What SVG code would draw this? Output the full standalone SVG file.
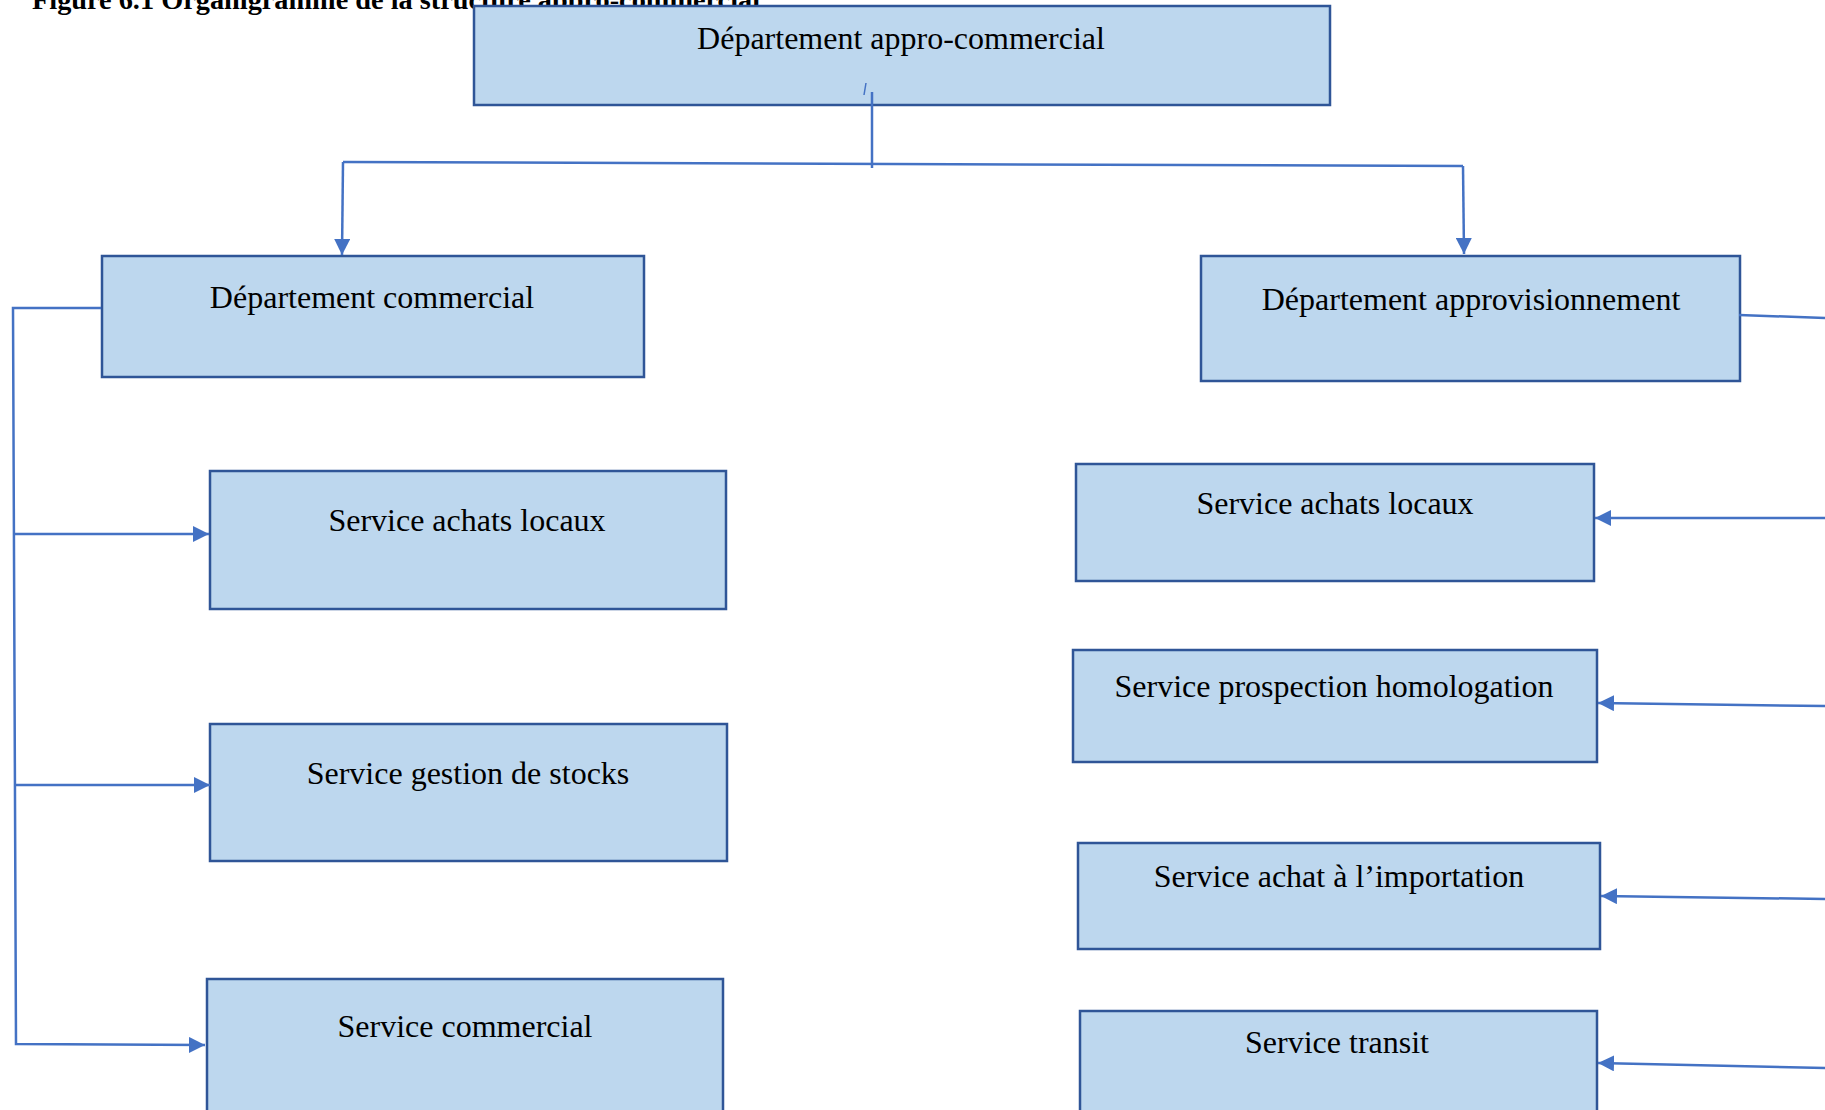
<svg xmlns="http://www.w3.org/2000/svg" width="1825" height="1110" viewBox="0 0 1825 1110">
  <style>
    .box { fill: #BDD7EE; stroke: #2F5597; stroke-width: 2.5; }
    .lbl { font-family: "Liberation Serif", "Times New Roman", serif; font-size: 32px; fill: #000; text-anchor: middle; }
    .title { font-family: "Liberation Serif", "Times New Roman", serif; font-size: 28px; font-weight: bold; fill: #000; }
    .con { fill: none; stroke: #4472C4; stroke-width: 2.5; }
  </style>
  <defs>
    <marker id="arr" viewBox="0 0 10 10" refX="10" refY="5" markerWidth="16" markerHeight="16" markerUnits="userSpaceOnUse" orient="auto">
      <path d="M0,0 L10,5 L0,10 z" fill="#4472C4"/>
    </marker>
  </defs>
  <rect width="1825" height="1110" fill="#FFFFFF"/>
  <text class="title" x="32" y="9" textLength="728" lengthAdjust="spacingAndGlyphs">Figure 6.1 Organigramme de la structure appro-commercial</text>

  <g id="n-dept-appro-commercial">
    <rect class="box" x="474" y="6" width="856" height="99"/>
    <text class="lbl" x="901" y="49">Département appro-commercial</text>
  </g>
  <g id="n-dept-commercial">
    <rect class="box" x="102" y="256" width="542" height="121"/>
    <text class="lbl" x="372" y="308">Département commercial</text>
  </g>
  <g id="n-dept-approvisionnement">
    <rect class="box" x="1201" y="256" width="539" height="125"/>
    <text class="lbl" x="1471" y="310">Département approvisionnement</text>
  </g>
  <g id="n-l-achats-locaux">
    <rect class="box" x="210" y="471" width="516" height="138"/>
    <text class="lbl" x="467" y="531">Service achats locaux</text>
  </g>
  <g id="n-l-gestion-stocks">
    <rect class="box" x="210" y="724" width="517" height="137"/>
    <text class="lbl" x="468" y="784">Service gestion de stocks</text>
  </g>
  <g id="n-l-service-commercial">
    <rect class="box" x="207" y="979" width="516" height="150"/>
    <text class="lbl" x="465" y="1037">Service commercial</text>
  </g>
  <g id="n-r-achats-locaux">
    <rect class="box" x="1076" y="464" width="518" height="117"/>
    <text class="lbl" x="1335" y="514">Service achats locaux</text>
  </g>
  <g id="n-r-prospection">
    <rect class="box" x="1073" y="650" width="524" height="112"/>
    <text class="lbl" x="1334" y="697">Service prospection homologation</text>
  </g>
  <g id="n-r-importation">
    <rect class="box" x="1078" y="843" width="522" height="106"/>
    <text class="lbl" x="1339" y="887">Service achat à l’importation</text>
  </g>
  <g id="n-r-transit">
    <rect class="box" x="1080" y="1011" width="517" height="130"/>
    <text class="lbl" x="1337" y="1053">Service transit</text>
  </g>

  <g id="connectors">
    <line class="con" x1="343" y1="162" x2="1463" y2="166"/>
    <line class="con" x1="872" y1="92" x2="872" y2="168"/>
    <line x1="864" y1="95" x2="866" y2="83" stroke="#4472C4" stroke-width="1.5"/>
    <path class="con" d="M343,162 L342,255" marker-end="url(#arr)"/>
    <path class="con" d="M1463,166 L1464,254" marker-end="url(#arr)"/>
    <path class="con" d="M101,308 L13,308 L16,1044 L205,1045" marker-end="url(#arr)"/>
    <path class="con" d="M14,534 L209,534" marker-end="url(#arr)"/>
    <path class="con" d="M15,785 L210,785" marker-end="url(#arr)"/>
    <path class="con" d="M1739,315 L1825,318"/>
    <path class="con" d="M1825,518 L1595,518" marker-end="url(#arr)"/>
    <path class="con" d="M1825,706 L1598,703" marker-end="url(#arr)"/>
    <path class="con" d="M1825,899 L1601,896" marker-end="url(#arr)"/>
    <path class="con" d="M1825,1068 L1598,1063" marker-end="url(#arr)"/>
  </g>
</svg>
